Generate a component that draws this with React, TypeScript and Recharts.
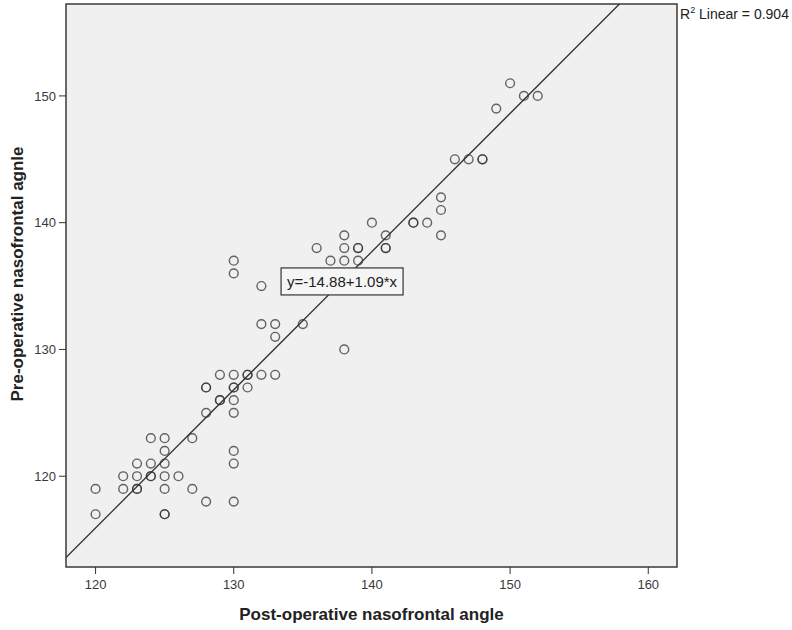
import { ScatterChart, Scatter, XAxis, YAxis, CartesianGrid, ReferenceLine, ReferenceDot, ReferenceArea, Label } from 'recharts';

// post-operative angle (x) and pre-operative angle (y), one entry per case
const postOp = [
  120, 120, 122, 122, 123, 123, 123, 123, 124, 124, 124, 124, 125, 125, 125, 125, 125, 125, 125,
  126, 127, 127, 128, 128, 128, 128, 129, 129, 129, 130, 130, 130, 130, 130, 130, 130, 130,
  131, 131, 131, 132, 133, 132, 133, 133, 135, 138, 132, 130, 130, 136, 137, 138, 139, 138, 139,
  139, 138, 141, 141, 141, 140, 143, 143, 144, 145, 145, 145, 146, 147, 148, 148, 149, 150, 151, 152,
];
const preOp = [
  119, 117, 120, 119, 121, 120, 119, 119, 123, 121, 120, 120, 123, 122, 121, 120, 119, 117, 117,
  120, 123, 119, 118, 125, 127, 127, 128, 126, 126, 128, 127, 127, 126, 125, 122, 121, 118,
  128, 128, 127, 128, 128, 132, 132, 131, 132, 130, 135, 137, 136, 138, 137, 137, 137, 138, 138,
  138, 139, 139, 138, 138, 140, 140, 140, 140, 142, 141, 139, 145, 145, 145, 145, 149, 151, 150, 150,
];

const xTicks = [120, 130, 140, 150, 160];
const yTicks = [120, 130, 140, 150];
const xDomain: [number, number] = [117.86, 162.08];
const yDomain: [number, number] = [112.84, 157.25];

const intercept = -14.88;
const slope = 1.09;
const rSquared = 0.904;
const equationAt = 137.84;

const data = postOp.map((x, i) => ({ x, y: preOp[i] }));

const fitSegment = [
  { x: xDomain[0], y: intercept + slope * xDomain[0] },
  { x: (yDomain[1] - intercept) / slope, y: yDomain[1] },
];

const font = '"Liberation Sans", Arial, sans-serif';

const ringShape = (props: any) => (
  <circle cx={props.cx} cy={props.cy} r={4.4} fill="none" stroke="#333" strokeOpacity={0.75} strokeWidth={1.4} />
);

const equationShape = (props: any) => (
  <g>
    <rect x={props.cx - 61} y={props.cy - 13.5} width={122} height={27} fill="#f5f5f5" stroke="#333" strokeWidth={1.2} />
    <text x={props.cx} y={props.cy} textAnchor="middle" dominantBaseline="central" fontSize={15} fontFamily={font} fill="#222">
      {`y=${intercept}+${slope}*x`}
    </text>
  </g>
);

export default function App() {
  return (
    <div style={{ position: 'absolute', left: 0, top: 0, width: 792, height: 630, background: '#fff' }}>
      <ScatterChart width={792} height={630} margin={{ top: 4, right: 115, bottom: 0, left: 0 }}>
        <CartesianGrid horizontal={false} vertical={false} fill="#f0f0f0" />
        <XAxis
          type="number"
          dataKey="x"
          domain={xDomain}
          ticks={xTicks}
          allowDataOverflow
          height={63}
          axisLine={false}
          tickSize={7}
          tickMargin={6}
          tickLine={{ stroke: '#333' }}
          tick={{ fontSize: 13, fill: '#3a3a3a', fontFamily: font }}
        >
          <Label
            value="Post-operative nasofrontal angle"
            position="insideBottom"
            offset={10}
            style={{ fontSize: 17, fontWeight: 'bold', fill: '#222', fontFamily: font }}
          />
        </XAxis>
        <YAxis
          type="number"
          dataKey="y"
          domain={yDomain}
          ticks={yTicks}
          allowDataOverflow
          width={66}
          axisLine={false}
          tickSize={7}
          tickMargin={3}
          tickLine={{ stroke: '#333' }}
          tick={{ fontSize: 13, fill: '#3a3a3a', fontFamily: font }}
        >
          <Label
            content={() => (
              <text
                x={17}
                y={274}
                transform="rotate(-90 17 274)"
                textAnchor="middle"
                dominantBaseline="central"
                fontSize={17}
                fontWeight="bold"
                fill="#222"
                fontFamily={font}
              >
                Pre-operative nasofrontal agnle
              </text>
            )}
          />
        </YAxis>
        <ReferenceLine segment={fitSegment} stroke="#333" strokeWidth={1.3} />
        <Scatter data={data} shape={ringShape} isAnimationActive={false} />
        <ReferenceDot x={equationAt} y={intercept + slope * equationAt} shape={equationShape} />
        <ReferenceArea
          x1={xDomain[0]}
          x2={xDomain[1]}
          y1={yDomain[0]}
          y2={yDomain[1]}
          fill="none"
          stroke="#3a3a3a"
          strokeWidth={1.5}
        />
      </ScatterChart>
      <div style={{ position: 'absolute', left: 680, top: 5, fontFamily: font, fontSize: 14, color: '#222', whiteSpace: 'nowrap' }}>
        R<sup style={{ fontSize: 9 }}>2</sup> Linear = {rSquared}
      </div>
    </div>
  );
}
